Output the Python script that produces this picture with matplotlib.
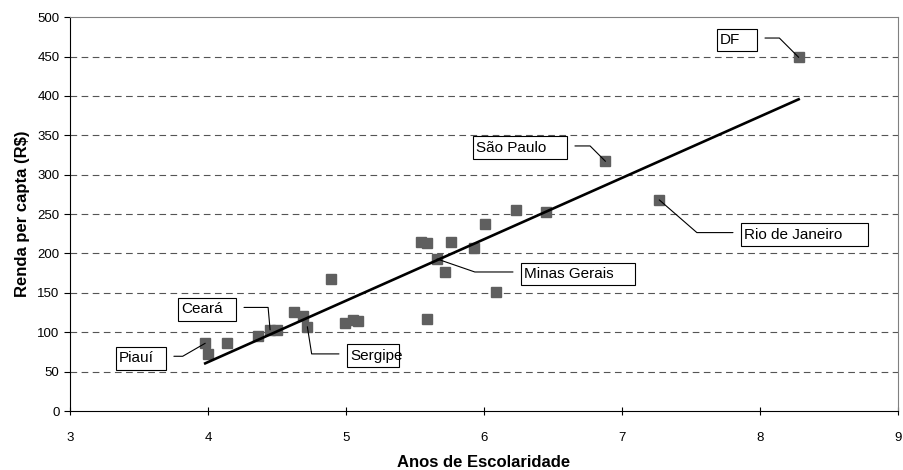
import matplotlib.pyplot as plt
from matplotlib.patches import Rectangle
import numpy as np

plt.rcParams['font.family'] = ['Liberation Sans', 'DejaVu Sans']

# anos de escolaridade x renda per capita (R$), um ponto por UF
anos = [3.98, 4.00, 4.14, 4.36, 4.45, 4.50, 4.62, 4.69, 4.72, 4.89,
        4.99, 5.05, 5.09, 5.54, 5.59, 5.59, 5.66, 5.72, 5.76, 5.93,
        6.01, 6.09, 6.23, 6.45, 6.88, 7.27, 8.28]
renda = [86, 73, 86, 95, 103, 103, 126, 121, 107, 168,
         112, 116, 114, 215, 213, 117, 193, 177, 214, 207,
         237, 151, 255, 253, 317, 268, 449]

# rotulos e o indice do ponto a que se referem
rotulos = ['DF', 'São Paulo', 'Rio de Janeiro', 'Minas Gerais', 'Ceará', 'Sergipe', 'Piauí']
rot_idx = [26, 24, 25, 16, 4, 8, 0]

# caixas: (x esquerda, y centro, largura), lado da ligacao, angulo da ligacao
caixas = [(7.688, 471, 0.290), (5.920, 334, 0.681), (7.862, 224, 0.920),
          (6.268, 174, 0.826), (3.783, 129, 0.420), (5.007, 70, 0.377),
          (3.333, 67, 0.362)]
lados = ['r', 'r', 'l', 'l', 'r', 'l', 'r']
angulos = [-45, -45, -41, -19, -85, -81, 30]

fig = plt.figure(figsize=(9.04, 4.70), dpi=100)
ax = fig.add_axes([0.0774, 0.1255, 0.916, 0.838])

ax.plot(anos, renda, 's', color='#5f5f5f', markersize=6.5, zorder=3)

# linha de tendencia
a, b = np.polyfit(anos, renda, 1)
xs = np.array([min(anos), max(anos)])
ax.plot(xs, a * xs + b, color='black', lw=1.9, zorder=4)

h = 29
for nome, i, (x0, yc, w), lado, ang in zip(rotulos, rot_idx, caixas, lados, angulos):
    ax.add_patch(Rectangle((x0, yc - h / 2), w, h, fc='white', ec='black', lw=0.8, zorder=5))
    ax.text(x0 + 0.022, yc, nome, ha='left', va='center', fontsize=11, zorder=6)
    xi = x0 + w + 0.058 if lado == 'r' else x0 - 0.058
    ax.annotate('', xy=(anos[i], renda[i]), xytext=(xi, yc + 2.5),
                arrowprops=dict(arrowstyle='-', color='black', lw=0.8,
                                shrinkA=0, shrinkB=0,
                                connectionstyle='angle,angleA=0,angleB=%d,rad=0' % ang),
                zorder=5)

ax.set_xlim(3, 9)
ax.set_ylim(0, 500)
ax.set_xticks(range(3, 10))
ax.set_yticks(range(0, 501, 50))
for yv in range(50, 500, 50):
    ax.axhline(yv, color='#555555', lw=0.8, dashes=(6, 4), zorder=1)

ax.spines['top'].set_color('#808080')
ax.spines['right'].set_color('#808080')
ax.tick_params(axis='y', direction='out', length=4, labelsize=9.5)
ax.tick_params(axis='x', direction='inout', length=6, labelsize=9.5, pad=12)

ax.set_xlabel('Anos de Escolaridade', fontsize=12, fontweight='bold', labelpad=8)
ax.set_ylabel('Renda per capta (R$)', fontsize=12, fontweight='bold', labelpad=5)

fig.savefig('out.png', dpi=100)
